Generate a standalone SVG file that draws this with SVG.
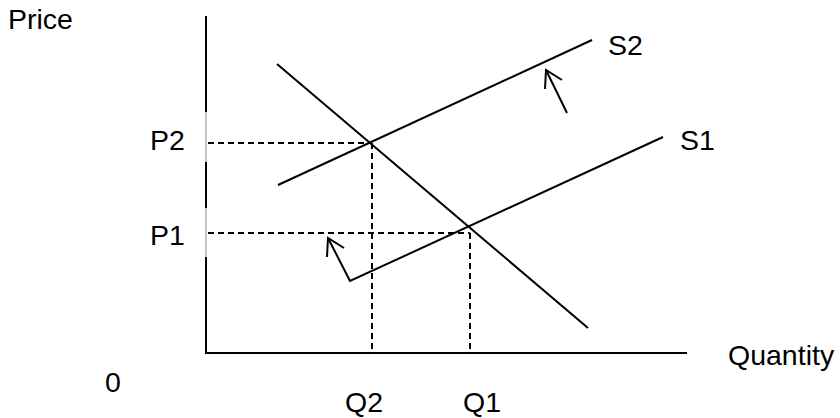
<svg xmlns="http://www.w3.org/2000/svg" width="840" height="418" viewBox="0 0 840 418">
<style>
text{font-family:"Liberation Sans",Arial,sans-serif;font-size:28.5px;fill:#000}
.ln{stroke:#000;stroke-width:2;fill:none}
.ds{stroke:#000;stroke-width:2;fill:none;stroke-dasharray:6 4}
.thin{stroke:#888;stroke-width:1;fill:none}
</style>
<rect width="840" height="418" fill="#fff"/>
<g id="axes">
<line class="thin" x1="206" y1="16" x2="206" y2="354"/>
<line class="ln" x1="206" y1="16" x2="206" y2="112"/>
<line class="ln" x1="206" y1="162" x2="206" y2="208"/>
<line class="ln" x1="206" y1="257" x2="206" y2="354"/>
<line class="ln" x1="205" y1="353" x2="687" y2="353"/>
</g>
<g id="connectors">
<line class="ds" x1="208" y1="143" x2="372" y2="143"/>
<line class="ds" x1="372" y1="143" x2="372" y2="352"/>
<line class="ds" x1="208" y1="233" x2="470" y2="233"/>
<line class="ds" x1="470" y1="233" x2="470" y2="352"/>
</g>
<g id="demand"><line class="ln" x1="277" y1="64" x2="588" y2="328"/></g>
<g id="S2"><line class="ln" x1="278" y1="185" x2="592" y2="40"/></g>
<g id="S1"><polyline class="ln" points="328,238 350,281 663,137"/><polyline class="ln" points="327,257 328,238 344,248"/></g>
<g id="shift-arrow"><line class="ln" x1="567" y1="113" x2="546" y2="70"/><polyline class="ln" points="545,89 546,70 562,80"/></g>
<g id="labels">
<text x="8" y="29">Price</text>
<text x="150" y="150">P2</text>
<text x="150" y="245">P1</text>
<text x="345" y="412">Q2</text>
<text x="463" y="412">Q1</text>
<text x="105" y="392">0</text>
<text x="608" y="55">S2</text>
<text x="680" y="150">S1</text>
<text x="728" y="365">Quantity</text>
</g>
</svg>
